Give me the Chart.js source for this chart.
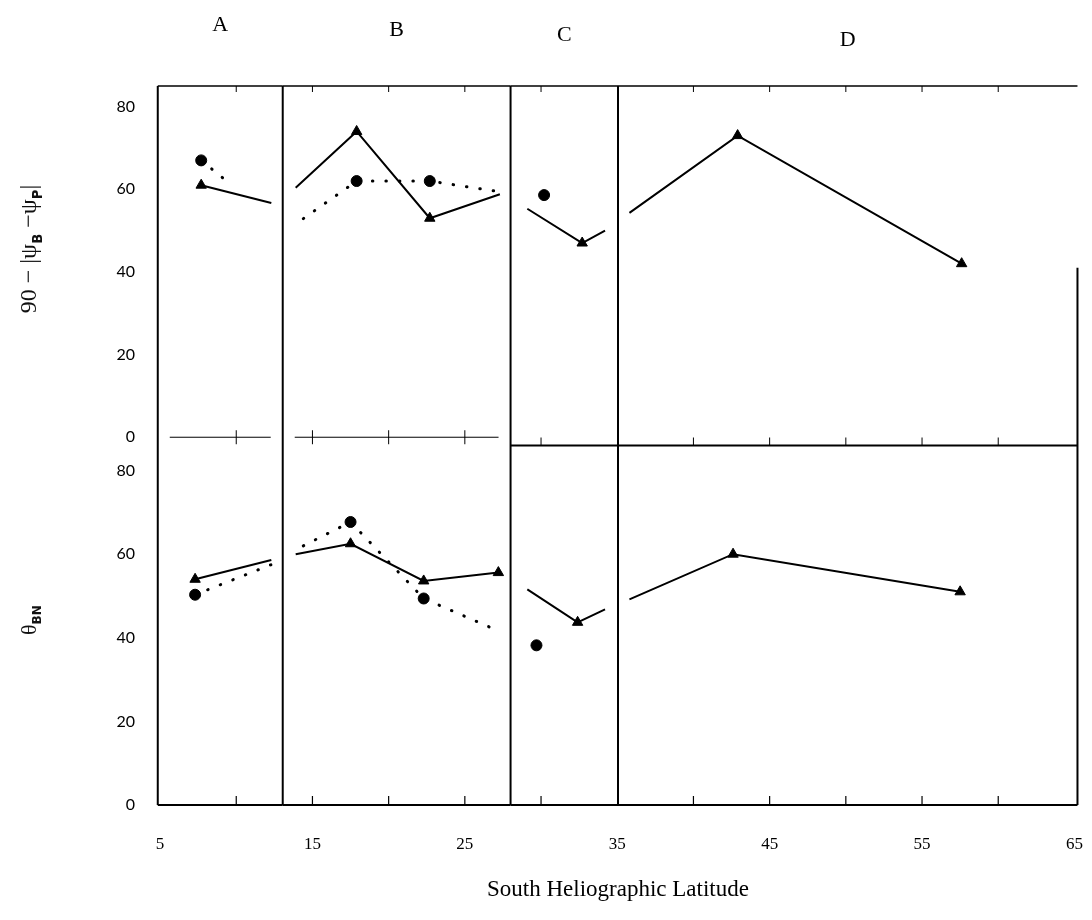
<!DOCTYPE html>
<html>
<head>
<meta charset="utf-8">
<title>South Heliographic Latitude</title>
<script src="https://cdn.jsdelivr.net/npm/chart.js@4.4.0/dist/chart.umd.min.js"></script>
<style>
  body { margin: 0; background: #fff; }
  #wrap { position: relative; width: 1092px; height: 920px; }
  #chart { position: absolute; left: 0; top: 0; }
  .ytitle {
    position: absolute;
    transform: translate(-50%, -50%) rotate(-90deg);
    white-space: nowrap;
    font-family: 'Liberation Serif', serif;
    color: #111;
  }
  .ytitle sub { font-size: 55%; font-family: 'DejaVu Sans', sans-serif; font-weight: bold; }
</style>
</head>
<body>
<div id="wrap">
  <canvas id="chart" width="1092" height="920"></canvas>
  <div class="ytitle" style="left:30px;top:249px;font-size:24px">90 − |ψ<sub>B</sub> −ψ<sub>P</sub>|</div>
  <div class="ytitle" style="left:30px;top:620px;font-size:22px">θ<sub>BN</sub></div>
</div>
<script>
// Panels and axes
const panelNames = ['A', 'B', 'C', 'D'];
const panelEdges = [4.85, 13.05, 28.0, 35.05, 65.2];
const xTicks = [5, 15, 25, 35, 45, 55, 65];
const yTicks = [0, 20, 40, 60, 80];

// upper plot: 90 - |psi_B - psi_P|  ([latitude, degrees])
const upTriangles = [[7.7, 61], [17.9, 74], [22.7, 53], [32.7, 47], [42.9, 73], [57.6, 42]];
const upTriRunoff = [[12.3, 56.7], [13.9, 60.4], [27.3, 58.8], [29.1, 55.3], [34.2, 50], [35.8, 54.3]];
const upCircles = [[7.7, 67], [17.9, 62], [22.7, 62], [30.2, 58.6]];
const upCircleRunoff = [[9.2, 62.5], [14.4, 52.9], [27.3, 59.4]];

// lower plot: theta_BN
const lowTriangles = [[7.3, 54], [17.5, 62.5], [22.3, 53.6], [27.2, 55.6], [32.4, 43.7], [42.6, 60], [57.5, 51]];
const lowTriRunoff = [[12.3, 58.6], [13.9, 60], [29.1, 51.6], [34.2, 46.8], [35.8, 49.2]];
const lowCircles = [[7.3, 50.3], [17.5, 67.7], [22.3, 49.4], [29.7, 38.2]];
const lowCircleRunoff = [[12.3, 57.5], [14.4, 62], [27.3, 41.5]];

function panelOf(lat) {
  for (let i = 0; i < panelNames.length; i++)
    if (lat >= panelEdges[i] && lat < panelEdges[i + 1]) return i;
  return -1;
}

// one line per panel, the lines never cross a panel border
function traces(marks, runoff, axis, dotted) {
  return panelNames.map((_, i) => ({
    type: 'line',
    data: [...marks, ...runoff]
      .filter(p => panelOf(p[0]) === i)
      .sort((a, b) => a[0] - b[0])
      .map(([x, y]) => ({x, y})),
    yAxisID: axis,
    borderColor: '#000',
    borderWidth: dotted ? 3 : 2,
    borderDash: dotted ? [0.5, 13] : [],
    borderCapStyle: dotted ? 'round' : 'butt',
    pointRadius: 0,
    tension: 0,
    fill: false,
  }));
}

function markers(marks, axis, style, r) {
  return {
    type: 'scatter',
    data: marks.map(([x, y]) => ({x, y})),
    yAxisID: axis,
    pointStyle: style,
    pointRadius: r,
    backgroundColor: '#000',
    borderColor: '#000',
    borderWidth: 1,
    showLine: false,
  };
}

// frames, zero lines and small ticks drawn from the scales
const frames = {
  id: 'frames',
  beforeDatasetsDraw(chart) {
    const {ctx, scales: {x, yUp, yLow}} = chart;
    const px = v => x.getPixelForValue(v);
    const seg = (x1, y1, x2, y2, w) => {
      ctx.lineWidth = w;
      ctx.beginPath(); ctx.moveTo(x1, y1); ctx.lineTo(x2, y2); ctx.stroke();
    };
    const top = yUp.getPixelForValue(85);
    const upZero = yUp.getPixelForValue(0);
    const lowTop = yLow.getPixelForValue(86);
    const bottom = yLow.getPixelForValue(0);
    ctx.save();
    ctx.strokeStyle = '#000';

    panelEdges.forEach((e, i) => {
      const y0 = i === panelEdges.length - 1 ? yUp.getPixelForValue(41) : top;
      seg(px(e), y0, px(e), bottom, 2);
    });

    panelNames.forEach((name, i) => {
      const l = px(panelEdges[i]), r = px(panelEdges[i + 1]);
      seg(l, top, r, top, 1.5);
      seg(l, bottom, r, bottom, 2);
      const early = i < 2;
      if (early) seg(l + 12, upZero, r - 12, upZero, 1);
      else seg(l, lowTop, r, lowTop, 2);

      for (let v = 10; v < 65; v += 5) {
        if (v - panelEdges[i] < 1.5 || panelEdges[i + 1] - v < 1.5) continue;
        const t = px(v);
        seg(t, top, t, top + 6, 1);
        if (early) seg(t, upZero - 7, t, upZero + 7, 1);
        else seg(t, lowTop - 8, t, lowTop, 1);
        seg(t, bottom - 9, t, bottom, 1.2);
      }

      // panel letters sit a little lower towards the right, as in the scan
      ctx.fillStyle = '#000';
      ctx.font = "22px 'Liberation Serif'";
      ctx.textAlign = 'center';
      ctx.textBaseline = 'middle';
      ctx.fillText(name, (l + r) / 2, 25 + 5 * i);
    });
    ctx.restore();
  }
};

const tickFont = {family: 'Lato', size: 16};
const yScale = (min, max) => ({
  type: 'linear',
  position: 'left',
  stack: 'plots',
  stackWeight: 1,
  min, max,
  afterBuildTicks: s => { s.ticks = yTicks.map(value => ({value})); },
  afterFit: s => { s.width = 140; s.paddingTop = 0; s.paddingBottom = 0; },
  grid: {display: false},
  border: {display: false},
  ticks: {color: '#000', font: tickFont, padding: 14},
});

new Chart(document.getElementById('chart'), {
  type: 'scatter',
  data: {
    datasets: [
      ...traces(upTriangles, upTriRunoff, 'yUp', false),
      ...traces(upCircles, upCircleRunoff, 'yUp', true),
      ...traces(lowTriangles, lowTriRunoff, 'yLow', false),
      ...traces(lowCircles, lowCircleRunoff, 'yLow', true),
      markers(upTriangles, 'yUp', 'triangle', 6),
      markers(upCircles, 'yUp', 'circle', 5.5),
      markers(lowTriangles, 'yLow', 'triangle', 6),
      markers(lowCircles, 'yLow', 'circle', 5.5),
    ]
  },
  options: {
    responsive: false,
    animation: false,
    devicePixelRatio: 1,
    layout: {padding: {top: 86, left: 17, right: 13, bottom: 12}},
    plugins: {legend: {display: false}, tooltip: {enabled: false}},
    scales: {
      x: {
        type: 'linear',
        min: 4.8, max: 65.3,
        afterBuildTicks: s => { s.ticks = xTicks.map(value => ({value})); },
        afterFit: s => { s.height = 103; s.paddingLeft = 0; s.paddingRight = 0; },
        grid: {display: false},
        border: {display: false},
        ticks: {color: '#000', font: {family: 'Liberation Serif', size: 17}, padding: 21, maxRotation: 0},
        title: {
          display: true,
          text: 'South Heliographic Latitude',
          color: '#000',
          font: {family: 'Liberation Serif', size: 23},
          padding: {top: 22, bottom: 4},
        },
      },
      // the later stacked axis is laid out on top
      yLow: yScale(0, 86),
      yUp: yScale(-2, 85),
    },
  },
  plugins: [frames],
});
</script>
</body>
</html>
